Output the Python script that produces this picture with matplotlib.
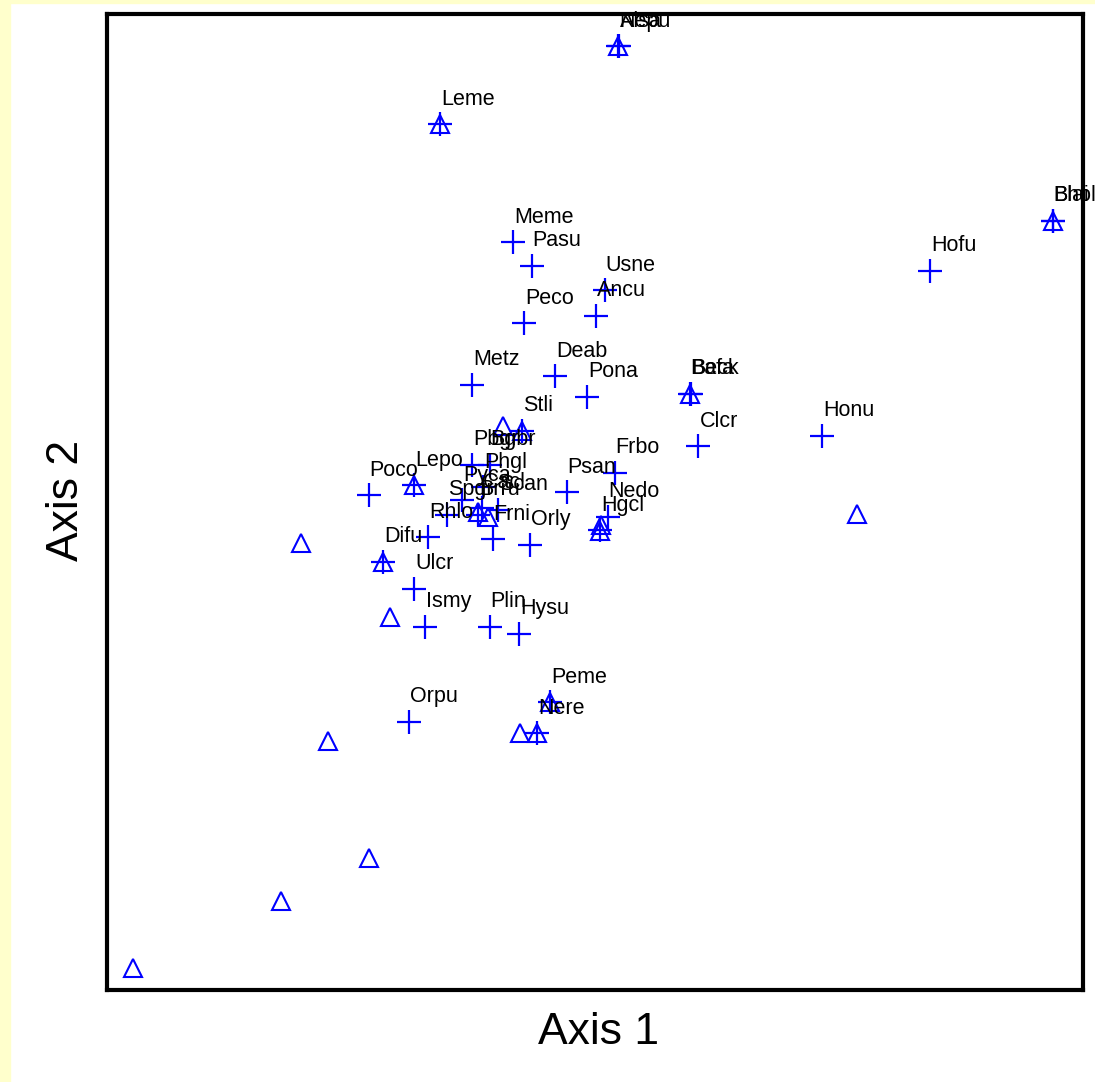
import matplotlib
matplotlib.use('Agg')
import matplotlib.pyplot as plt
from matplotlib.patches import Rectangle

# species scores (plus markers, labelled)
species = ['Meme', 'Pasu', 'Usne', 'Ancu', 'Peco', 'Metz', 'Deab', 'Pona',
           'Stli', 'Clcr', 'Honu', 'Hofu', 'Frbo', 'Psan', 'Nedo', 'Hgcl',
           'Orly', 'Frni', 'Poco', 'Lepo', 'Difu', 'Ulcr', 'Ismy', 'Plin',
           'Hysu', 'Orpu', 'Peme', 'Nere', 'Leme', 'Nepu', 'Alsa', 'Bhol',
           'Blai', 'Bafa', 'Beck', 'Pbgr', 'Bgbr', 'Phgl', 'Pyca', 'Cacl',
           'Scan', 'Spgr', 'Rhlo', 'Brru']
sp_x = [41.6, 43.5, 51.0, 50.1, 42.7, 37.4, 45.9, 49.2,
        42.5, 60.6, 73.3, 84.3, 52.0, 47.1, 51.3, 50.5,
        43.3, 39.5, 26.8, 31.5, 28.3, 31.5, 32.6, 39.2,
        42.2, 30.9, 45.4, 44.1, 34.1, 52.4, 52.5, 96.9,
        96.9, 59.7, 59.8, 37.4, 39.2, 38.5, 36.4, 38.4,
        40.1, 34.8, 32.9, 38.0]
sp_y = [76.6, 74.2, 71.7, 69.1, 68.3, 62.0, 62.9, 60.8,
        57.3, 55.7, 56.8, 73.7, 53.0, 51.0, 48.5, 47.1,
        45.6, 46.2, 50.7, 51.7, 43.9, 41.1, 37.2, 37.2,
        36.5, 27.5, 29.5, 26.3, 88.7, 96.7, 96.7, 78.8,
        78.8, 61.1, 61.1, 53.8, 53.8, 51.5, 50.2, 49.4,
        49.2, 48.7, 46.4, 48.7]

# sample unit scores (triangles)
site_x = [40.6, 19.9, 29.0, 22.6, 26.8, 17.8, 2.7, 76.8, 42.3,
          52.4, 34.1, 96.9, 59.7, 42.5, 31.5, 28.3, 50.5, 50.6,
          45.4, 44.1, 38.0, 39.0]
site_y = [57.8, 45.8, 38.2, 25.5, 13.5, 9.1, 2.3, 48.8, 26.3,
          96.7, 88.7, 78.8, 61.1, 57.3, 51.7, 43.9, 47.0, 47.6,
          29.5, 26.3, 49.0, 48.5]

fig = plt.figure(figsize=(10.95, 10.82), dpi=100)
fig.patch.set_facecolor('white')
# pale yellow page border on left and top
fig.patches.append(Rectangle((0, 0), 10 / 1095, 1, transform=fig.transFigure,
                             color='#FFFFCC', zorder=0))
fig.patches.append(Rectangle((0, 1 - 3 / 1082), 1, 3 / 1082,
                             transform=fig.transFigure, color='#FFFFCC',
                             zorder=0))

ax = fig.add_axes([107 / 1095, 92 / 1082, 976 / 1095, 976 / 1082])
ax.set_xlim(0, 100)
ax.set_ylim(0, 100)
ax.set_xticks([])
ax.set_yticks([])
for s in ax.spines.values():
    s.set_linewidth(3)
    s.set_color('black')

ax.plot(site_x, site_y, linestyle='none', marker='^', markersize=13,
        markerfacecolor='none', markeredgecolor='#0000FF',
        markeredgewidth=1.5, clip_on=False, zorder=3)
ax.plot(sp_x, sp_y, linestyle='none', marker='+', markersize=17,
        markeredgecolor='#0000FF', markeredgewidth=1.6, clip_on=False,
        zorder=4)

for name, x, y in zip(species, sp_x, sp_y):
    ax.annotate(name, (x, y), xytext=(1, 25), textcoords='offset pixels',
                ha='left', va='center', fontsize=15.5,
                family='Liberation Sans', color='black',
                annotation_clip=False, zorder=5)

fig.text(598 / 1095, 1 - 1033 / 1082, 'Axis 1', ha='center', va='center',
         fontsize=32, family='Liberation Sans')
fig.text(66 / 1095, 1 - 500 / 1082, 'Axis 2', ha='center', va='center',
         rotation=90, fontsize=32, family='Liberation Sans')

fig.savefig('out.png', dpi=100)
